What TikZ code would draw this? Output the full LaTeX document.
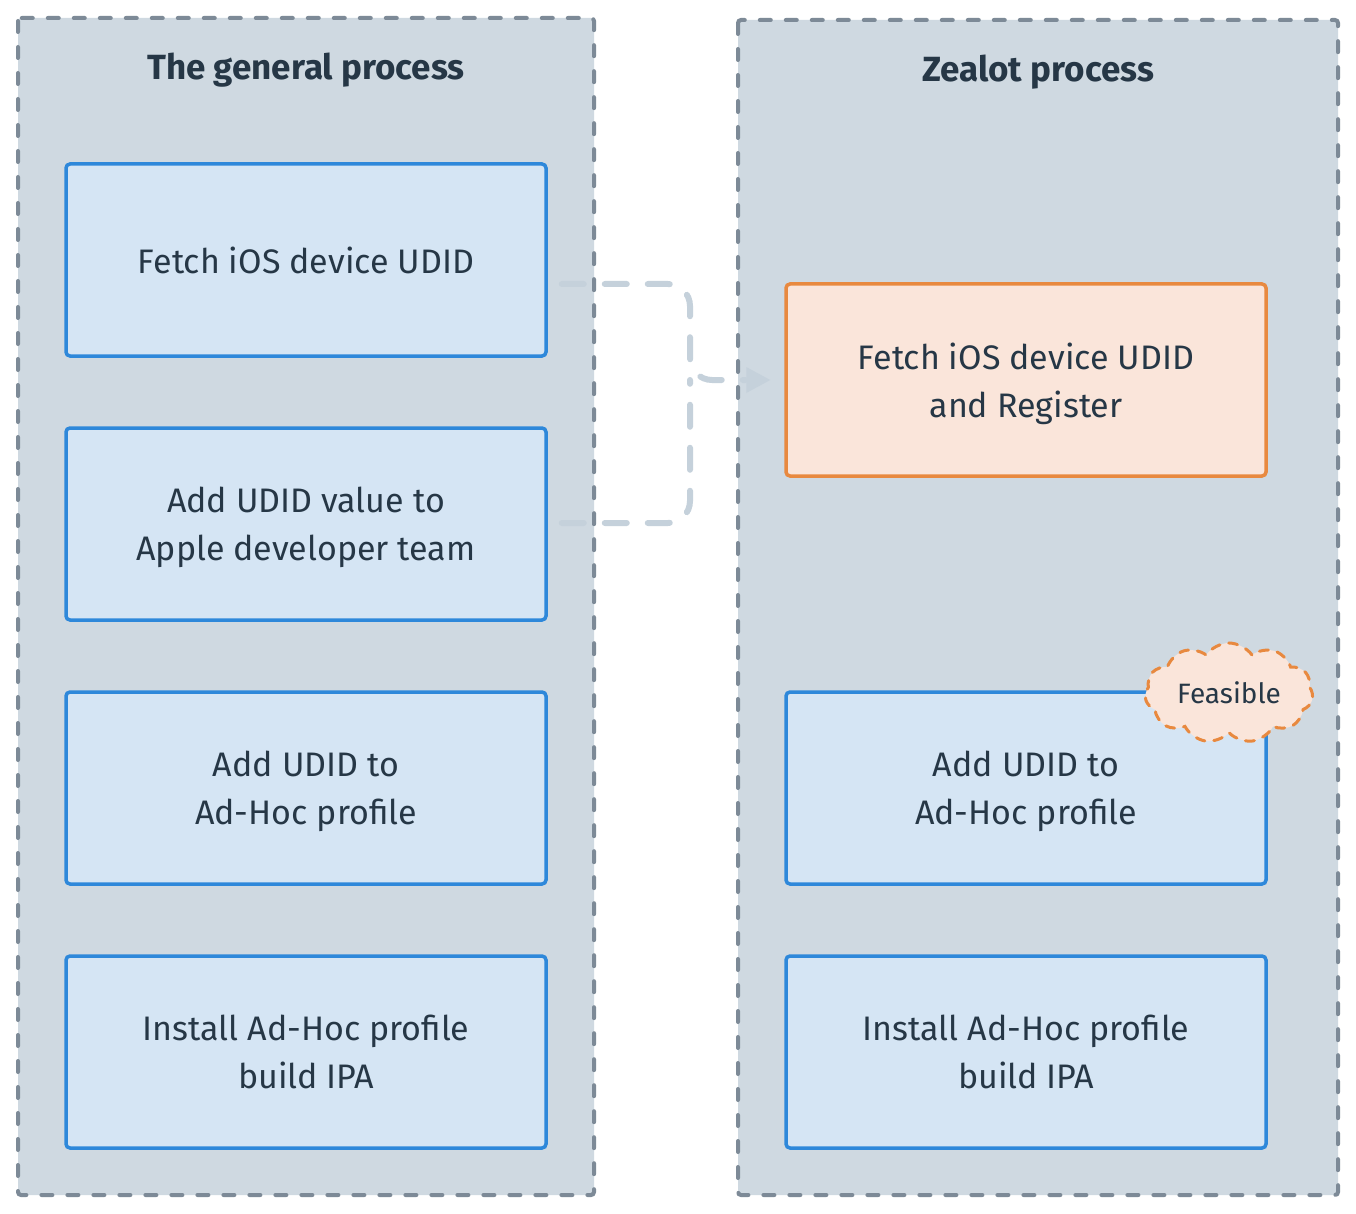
\documentclass[tikz,border=0pt]{standalone}
\usepackage{fontspec}
\setmainfont{Fira Sans}
\usetikzlibrary{arrows.meta,shapes.symbols}
\definecolor{panelfill}{HTML}{CFD9E1}
\definecolor{panelline}{HTML}{7D8A97}
\definecolor{bluefill}{HTML}{D5E5F4}
\definecolor{blueline}{HTML}{2E88DA}
\definecolor{orangefill}{HTML}{FAE5DA}
\definecolor{orangeline}{HTML}{E8893F}
\definecolor{txt}{HTML}{263746}
\definecolor{conn}{HTML}{C5D1DB}
\tikzset{
  panel/.style={draw=panelline, fill=panelfill, line width=4pt, dash pattern=on 11pt off 15pt, line cap=round, rounded corners=3pt},
  stepbox/.style={draw=blueline, fill=bluefill, line width=3.5pt, rounded corners=4pt, minimum width=480pt, minimum height=192pt, inner sep=0pt, align=center, text=txt, text depth=0pt, font=\fontsize{34}{48}\selectfont},
  orangebox/.style={stepbox, draw=orangeline, fill=orangefill},
  titletext/.style={text=txt, font=\fontsize{35}{40}\selectfont\bfseries},
  conline/.style={draw=conn, line width=6pt, dash pattern=on 22pt off 21pt, line cap=round, rounded corners=22pt},
  tag/.style={cloud, cloud puffs=11, cloud puff arc=110, aspect=1.9, draw=orangeline, fill=orangefill, line width=3pt, dash pattern=on 9pt off 9pt, line cap=round, text=txt, font=\fontsize{28}{32}\selectfont, inner sep=0pt, minimum width=168pt, minimum height=100pt}
}
\begin{document}
\begin{tikzpicture}[x=1pt,y=-1pt]
\useasboundingbox (0,0) rectangle (1356,1214);
\fill[white] (0,0) rectangle (1356,1214);
\path[panel] (18,18) rectangle (594,1195);
\path[panel] (738,20) rectangle (1338,1195);
\node[titletext] (t1) at (306,70) {The general process};
\node[titletext] (t2) at (1038,72) {Zealot process};

\node[stepbox] (a1) at (306,260) {Fetch iOS device UDID};
\node[stepbox] (a2) at (306,524) {Add UDID value to\\Apple developer team};
\node[stepbox] (a3) at (306,788) {Add UDID to\\Ad-Hoc profile};
\node[stepbox] (a4) at (306,1052) {Install Ad-Hoc profile\\build IPA};

\node[orangebox] (z1) at (1026,380) {Fetch iOS device UDID\\and Register};
\node[stepbox] (z2) at (1026,788) {Add UDID to\\Ad-Hoc profile};
\node[stepbox] (z3) at (1026,1052) {Install Ad-Hoc profile\\build IPA};
\node[tag] (f) at (1229,693) {Feasible};

\coordinate (m) at (690,380);
\path[conline] ([xshift=14pt,yshift=-24pt]a1.east) -- (690,284) -- (m) -- (745,380);
\path[conline] ([xshift=14pt,yshift=1pt]a2.east) -- (690,523) -- (m);
\path[fill=conn] ([xshift=-14pt]z1.west) -- ++(-24,-13) -- ++(0,26) -- cycle;
\end{tikzpicture}
\end{document}
